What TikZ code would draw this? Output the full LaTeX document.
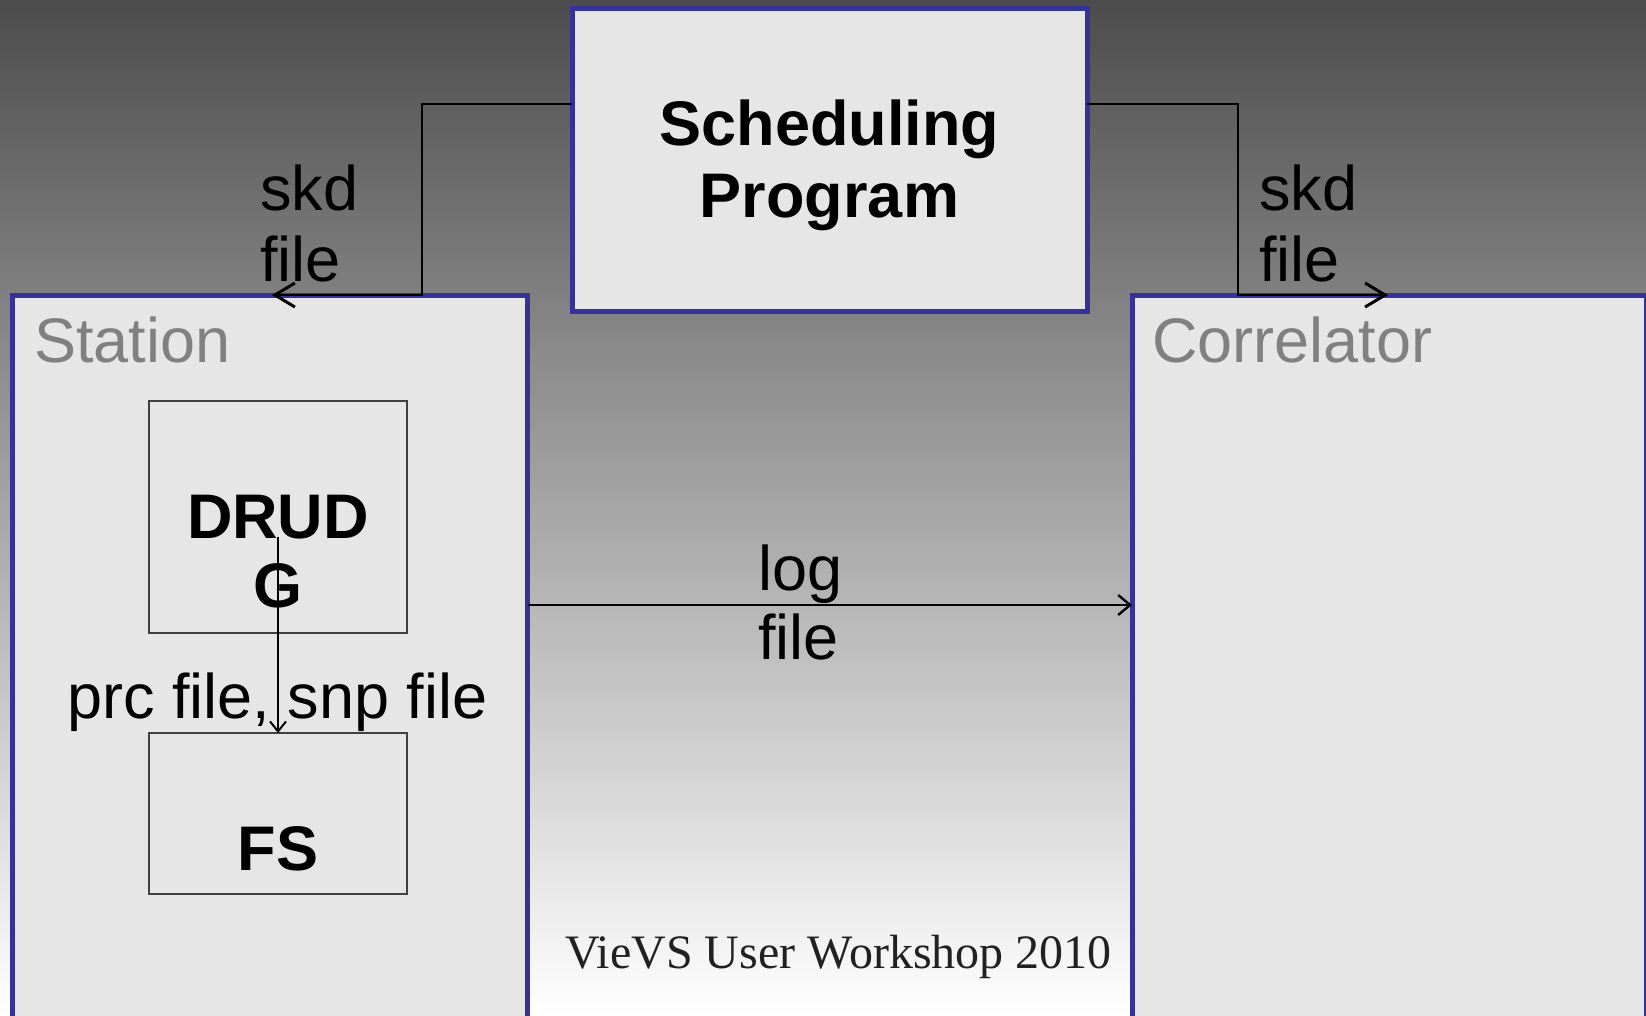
\documentclass[tikz,border=0pt]{standalone}
\usepackage{fontspec}
\setmainfont{Liberation Sans}
\newfontfamily\footfont{Liberation Serif}
\usetikzlibrary{arrows.meta}
\definecolor{boxblue}{HTML}{333399}
\definecolor{boxfill}{HTML}{E6E6E6}
\definecolor{labgray}{HTML}{808080}
\definecolor{bgtop}{HTML}{4C4C4C}
\begin{document}
\begin{tikzpicture}[x=1pt,y=-1pt,
  bluebox/.style={draw=boxblue, line width=5pt, fill=boxfill, inner sep=0pt, outer sep=0pt, anchor=north west},
  thinbox/.style={draw=black!75, line width=1.2pt, fill=boxfill, inner sep=0pt, outer sep=0pt, anchor=north west},
  big/.style={font=\fontsize{63}{71}\selectfont, inner sep=0pt, anchor=base west},
  bigc/.style={font=\fontsize{63}{71}\selectfont\bfseries, inner sep=0pt, anchor=base},
  conn/.style={line width=1.8pt, black},
  bigtip/.style={-{Straight Barb[length=20pt,width=24pt,line width=3pt]}},
  midtip/.style={-{Straight Barb[length=12pt,width=20pt,line width=2.4pt]}},
  smalltip/.style={-{Straight Barb[length=10pt,width=16pt,line width=2pt]}},
]
\useasboundingbox (0,0) rectangle (1646,1015);
\clip (0,0) rectangle (1646,1015);
\shade[top color=bgtop, bottom color=white] (0,0) rectangle (1646,1015);

% boxes
\node[bluebox, minimum width=515pt, minimum height=303pt] (sched) at (572,8) {};
\node[bluebox, minimum width=515pt, minimum height=740pt] (station) at (12.5,295) {};
\node[bluebox, minimum width=514pt, minimum height=740pt] (corr) at (1132,295) {};
\node[thinbox, minimum width=258pt, minimum height=232pt] (drudg) at (149,401) {};
\node[thinbox, minimum width=258pt, minimum height=161pt] (fs) at (149,733) {};

% box texts
\node[bigc] (schedA) at (829.5,145) {Scheduling};
\node[bigc] (schedB) at (829.5,217) {Program};
\node[big, text=labgray] (stationT) at (34,362) {Station};
\node[big, text=labgray] (corrT) at (1152,362) {Correlator};
\node[bigc] (drudgA) at (278,538) {DRUD};
\node[bigc] (drudgB) at (278,607) {G};
\node[bigc] (fsT) at (278,870) {FS};

% connector labels
\node[big] (skdLa) at (260,210) {skd};
\node[big] (skdLb) at (260,281) {file};
\node[big] (skdRa) at (1259,210) {skd};
\node[big] (skdRb) at (1259,281) {file};
\node[big] (loga) at (758,590) {log};
\node[big] (logb) at (758,659) {file};
\node[big] (prc) at (67,718) {prc file, snp file};

% connectors
\coordinate (skdLbend) at (422,104);
\coordinate (skdLtip) at (272,295);
\coordinate (skdRbend) at (1238,104);
\coordinate (skdRtip) at (1388,295);
\coordinate (logy) at (0,605);
\coordinate (drudgsrc) at (278,537);
\draw[conn, bigtip] (sched.west |- skdLbend) -- (skdLbend) |- (skdLtip);
\draw[conn, bigtip] (sched.east |- skdRbend) -- (skdRbend) |- (skdRtip);
\draw[conn, midtip] (station.east |- logy) -- (corr.west |- logy);
\draw[conn, line width=1.4pt, smalltip] (drudgsrc) -- (fs.north);

% footer
\node[font=\footfont\fontsize{48}{56}\selectfont, text=black!87, inner sep=0pt, anchor=base west] (footer) at (565,968) {VieVS User Workshop 2010};
\end{tikzpicture}
\end{document}
